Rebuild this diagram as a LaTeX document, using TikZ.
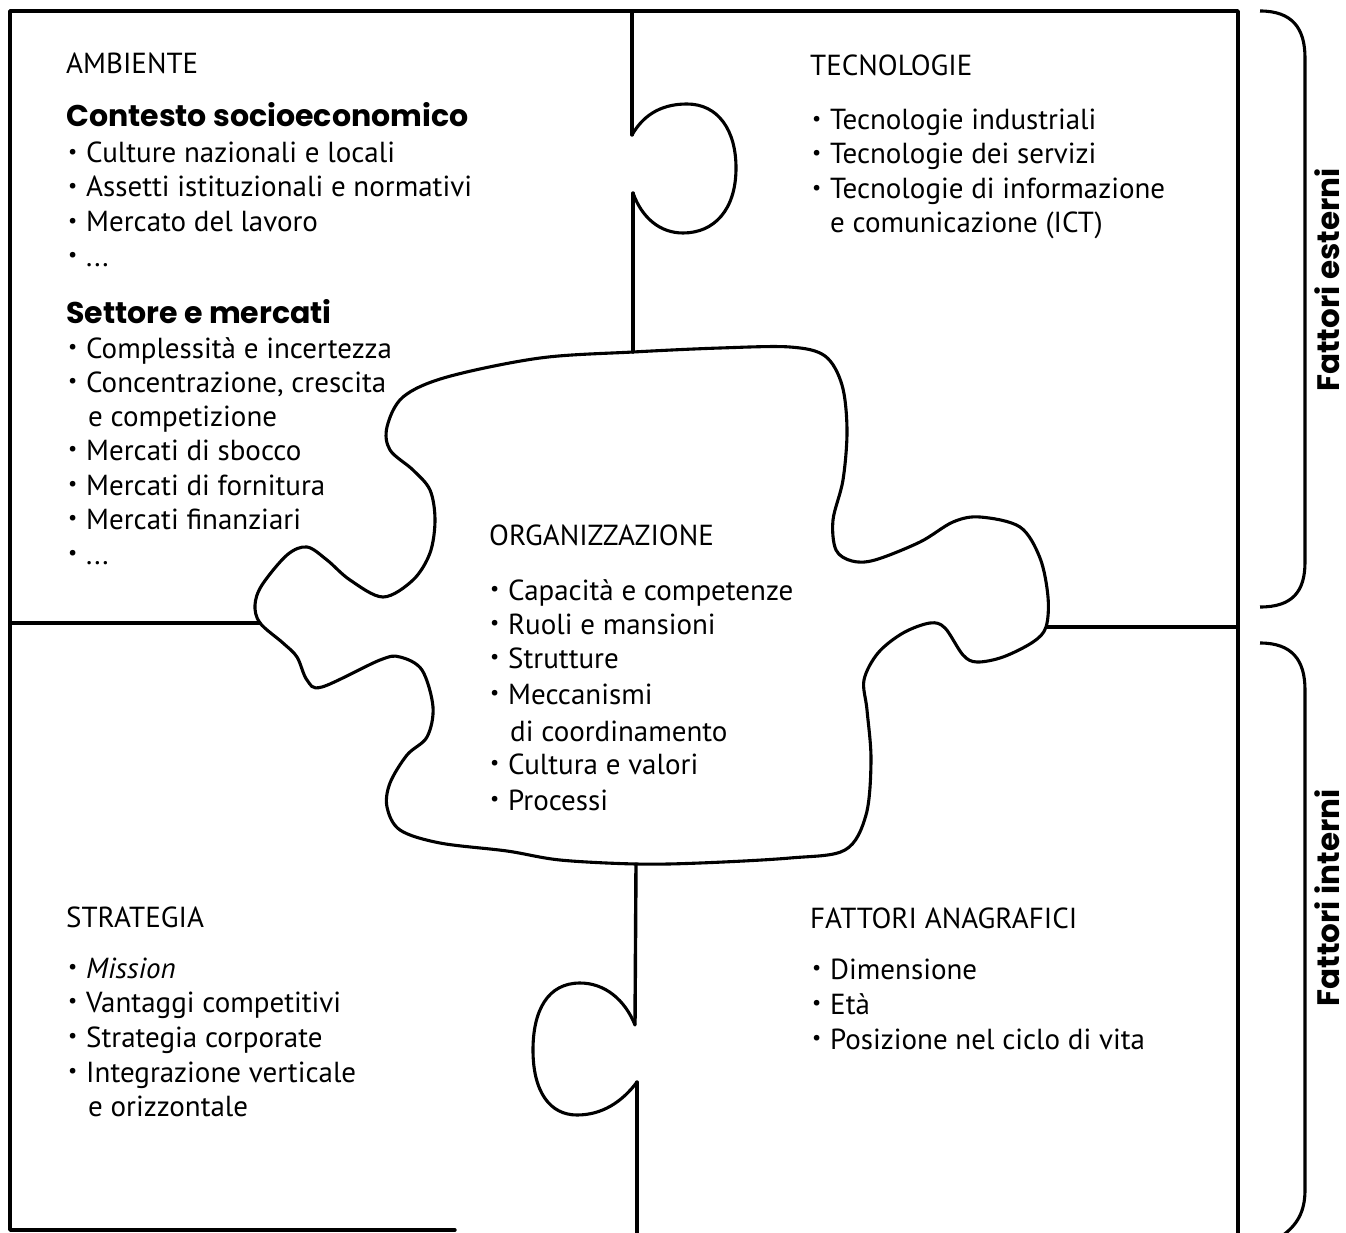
\documentclass[tikz,border=0pt]{standalone}
\usepackage{fontspec}
\setmainfont{PT Sans}
\newfontfamily\hdfont{Poppins}
\usepackage{graphicx}
\newcommand\fs{\fontsize{29}{34}\selectfont}
\newcommand\hfs{\hdfont\fontsize{30}{34}\selectfont\bfseries}
\newcommand\sfs{\hdfont\fontsize{31}{34}\selectfont\bfseries}
\newcommand\bul{\makebox[18pt][l]{\raisebox{0.15em}{\scalebox{0.7}{\textbullet}}}}
\tikzset{
  txt/.style={anchor=base west, inner sep=0pt, font=\fs},
  hd/.style={anchor=base west, inner sep=0pt, font=\hfs},
  side/.style={rotate=90, inner sep=0pt, anchor=base, font=\sfs},
  edge/.style={line width=3.4pt, line cap=round, line join=round},
  piece/.style={line width=3.1pt},
}
\begin{document}
\begin{tikzpicture}[x=1pt,y=-1pt]
\useasboundingbox (0,0) rectangle (1346,1233);
% frame
\coordinate (tl) at (10,11);
\coordinate (tr) at (1238,11);
\coordinate (bl) at (10,1230);
\coordinate (bcut) at (455,1230);
\coordinate (br) at (1238,1233);
\draw[edge] (bcut) -- (bl) -- (tl) -- (tr) -- (br);
% upper vertical line with knob
\coordinate (vt) at (632,11);
\coordinate (k1a) at (632,135);
\coordinate (k1b) at (633,193);
\coordinate (v1) at (633,352);
\draw[edge] (vt) -- (k1a);
\draw[piece] (k1a) .. controls (645,112) and (665,104) .. (687,104)
  .. controls (718,104) and (736,130) .. (736,168)
  .. controls (736,210) and (714,233) .. (683,233)
  .. controls (660,233) and (642,218) .. (k1b);
\draw[edge] (k1b) -- (v1);
% lower vertical line with knob
\coordinate (v2) at (636,864);
\coordinate (k2a) at (635,1025);
\coordinate (k2b) at (637,1082);
\coordinate (vb) at (637,1233);
\draw[edge] (v2) -- (k2a);
\draw[piece] (k2a) .. controls (625,1000) and (605,983) .. (580,983)
  .. controls (548,983) and (533,1010) .. (533,1050)
  .. controls (533,1092) and (550,1115) .. (577,1115)
  .. controls (602,1115) and (622,1102) .. (k2b);
\draw[edge] (k2b) -- (vb);
% horizontal lines
\coordinate (hl) at (10,623);
\coordinate (hl2) at (260,623);
\coordinate (hr) at (1047,627);
\coordinate (hr2) at (1238,627);
\draw[edge] (hl) -- (hl2);
\draw[edge] (hr) -- (hr2);
% central piece
\draw[piece] plot[smooth cycle, tension=0.55] coordinates {
 (633,352) (720,348) (790,347) (825,356) (842,385) (847,430) (843,480)
 (833,520) (836,550) (852,561) (875,560) (920,542) (953,522) (980,517)
 (1020,527) (1040,558) (1048,597) (1046,627) (1033,642) (1003,657) (977,662)
 (963,655) (945,628) (930,623) (903,633) (878,653) (864,680) (867,710)
 (871,760) (866,815) (845,850) (790,858) (700,863) (636,864) (560,860)
 (507,851) (440,843) (400,830) (387,807) (390,783) (407,755) (427,737)
 (433,707) (422,670) (400,657) (380,660) (322,687) (307,680) (297,657)
 (283,643) (260,623) (255,605) (262,585) (287,555) (307,547) (327,560)
 (350,580) (383,597) (413,580) (430,553) (435,520) (430,490) (413,470)
 (390,450) (387,427) (403,397) (447,377) (540,358)};
% braces
\draw[piece] (1260,11) .. controls (1292,11) and (1305,28) .. (1305,58)
  -- (1305,562) .. controls (1305,592) and (1292,607) .. (1260,607);
\draw[piece] (1260,643) .. controls (1292,643) and (1305,660) .. (1305,690)
  -- (1305,1190) .. controls (1305,1212) and (1297,1225) .. (1282,1236);
\node[side] (fe) at (1339,280) {Fattori esterni};
\node[side] (fi) at (1339,898) {Fattori interni};
% AMBIENTE
\node[txt] (amb) at (66,74) {AMBIENTE};
\node[hd] (cs) at (66,127) {Contesto socioeconomico};
\node[txt] (a1) at (68,163) {\bul Culture nazionali e locali};
\node[txt] (a2) at (68,197) {\bul Assetti istituzionali e normativi};
\node[txt] (a3) at (68,232) {\bul Mercato del lavoro};
\node[txt] (a4) at (68,266) {\bul ...};
\node[hd] (sm) at (66,323) {Settore e mercati};
\node[txt] (b1) at (68,358) {\bul Complessità e incertezza};
\node[txt] (b2) at (68,392) {\bul Concentrazione, crescita};
\node[txt] (b2b) at (88,426) {e competizione};
\node[txt] (b3) at (68,460) {\bul Mercati di sbocco};
\node[txt] (b4) at (68,495) {\bul Mercati di fornitura};
\node[txt] (b5) at (68,529) {\bul Mercati finanziari};
\node[txt] (b6) at (68,564) {\bul ...};
% TECNOLOGIE
\node[txt] (tec) at (810,76) {TECNOLOGIE};
\node[txt] (t1) at (812,130) {\bul Tecnologie industriali};
\node[txt] (t2) at (812,164) {\bul Tecnologie dei servizi};
\node[txt] (t3) at (812,199) {\bul Tecnologie di informazione};
\node[txt] (t3b) at (830,233) {e comunicazione (ICT)};
% ORGANIZZAZIONE
\node[txt] (org) at (489,545) {ORGANIZZAZIONE};
\node[txt] (o1) at (490,600) {\bul Capacità e competenze};
\node[txt] (o2) at (490,634) {\bul Ruoli e mansioni};
\node[txt] (o3) at (490,668) {\bul Strutture};
\node[txt] (o4) at (490,704) {\bul Meccanismi};
\node[txt] (o4b) at (510,741) {di coordinamento};
\node[txt] (o5) at (490,774) {\bul Cultura e valori};
\node[txt] (o6) at (490,810) {\bul Processi};
% STRATEGIA
\node[txt] (str) at (66,927) {STRATEGIA};
\node[txt] (s1) at (68,978) {\bul \textit{Mission}};
\node[txt] (s2) at (68,1012) {\bul Vantaggi competitivi};
\node[txt] (s3) at (68,1047) {\bul Strategia corporate};
\node[txt] (s4) at (68,1082) {\bul Integrazione verticale};
\node[txt] (s4b) at (88,1116) {e orizzontale};
% FATTORI ANAGRAFICI
\node[txt] (fa) at (810,928) {FATTORI ANAGRAFICI};
\node[txt] (f1) at (812,979) {\bul Dimensione};
\node[txt] (f2) at (812,1014) {\bul Età};
\node[txt] (f3) at (812,1049) {\bul Posizione nel ciclo di vita};
\end{tikzpicture}
\end{document}
